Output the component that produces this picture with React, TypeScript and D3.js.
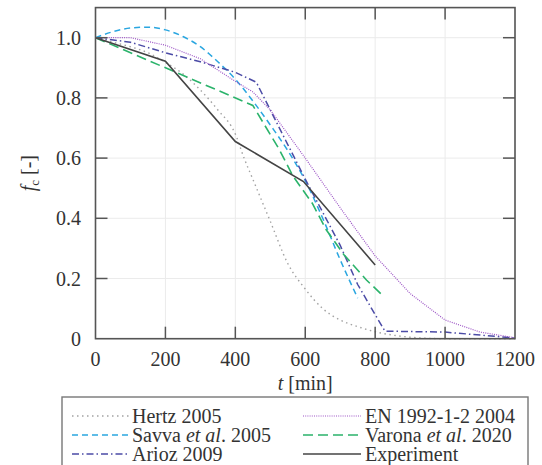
import React from "react";
import * as d3 from "d3";

const xTicks = [0, 200, 400, 600, 800, 1000, 1200];
const yTicks = [0, 0.2, 0.4, 0.6, 0.8, 1.0];
const yTickLabels = ["0", "0.2", "0.4", "0.6", "0.8", "1.0"];

const hertzT = [0, 50, 100, 150, 200, 250, 300, 350, 400, 425, 450, 500, 550, 600, 650, 700, 750, 800, 850, 900, 1000, 1200];
const hertzF = [1.0, 0.985, 0.97, 0.95, 0.918, 0.88, 0.826, 0.76, 0.68, 0.6, 0.53, 0.39, 0.25, 0.165, 0.1, 0.062, 0.04, 0.023, 0.012, 0.005, 0.0, 0.0];

const savvaT = [0, 50, 100, 150, 200, 250, 300, 350, 400, 450, 500, 550, 600, 650, 700, 750];
const savvaF = [1.0, 1.02, 1.032, 1.035, 1.026, 1.004, 0.97, 0.92, 0.862, 0.79, 0.71, 0.625, 0.525, 0.4, 0.262, 0.135];

const ariozT = [0, 100, 200, 300, 400, 460, 500, 550, 600, 650, 700, 750, 800, 828, 1000, 1200];
const ariozF = [1.0, 0.985, 0.95, 0.92, 0.885, 0.852, 0.76, 0.645, 0.53, 0.42, 0.31, 0.18, 0.08, 0.025, 0.022, 0.002];

const enT = [0, 100, 200, 300, 400, 450, 500, 600, 700, 800, 900, 1000, 1100, 1200];
const enF = [1.0, 1.0, 0.975, 0.93, 0.855, 0.82, 0.76, 0.6, 0.435, 0.275, 0.15, 0.062, 0.022, 0.003];

const varonaT = [0, 450, 525, 565, 620, 660, 710, 775, 825];
const varonaF = [1.0, 0.775, 0.63, 0.54, 0.45, 0.362, 0.28, 0.195, 0.14];

const expT = [0, 200, 400, 595, 800];
const expF = [1.0, 0.922, 0.655, 0.522, 0.245];

const W = 542;
const H = 465;
const L = 95.5, R = 515, T = 7.6, B = 338.7;

type S = { name: string; t: number[]; f: number[]; color: string; dash: string; width: number; smooth: boolean };

const series: S[] = [
  { name: "Hertz 2005", t: hertzT, f: hertzF, color: "#a3a3a3", dash: "1.5 3.5", width: 1.4, smooth: true },
  { name: "Savva", t: savvaT, f: savvaF, color: "#2aa6e0", dash: "6 4", width: 1.5, smooth: true },
  { name: "Arioz 2009", t: ariozT, f: ariozF, color: "#4b4ba6", dash: "7 3 1.5 3", width: 1.5, smooth: false },
  { name: "EN 1992-1-2 2004", t: enT, f: enF, color: "#9d55c6", dash: "1 1.2", width: 1.2, smooth: false },
  { name: "Varona", t: varonaT, f: varonaF, color: "#2bb36b", dash: "10 5", width: 1.6, smooth: false },
  { name: "Experiment", t: expT, f: expF, color: "#444444", dash: "", width: 1.6, smooth: false },
];

export default function App() {
  const x = d3.scaleLinear().domain([0, 1200]).range([L, R]);
  const y = d3.scaleLinear().domain([0, 1.1]).range([B, T]);
  const mk = (s: S) => {
    const g = d3
      .line<number>()
      .x((_, i) => x(s.t[i]))
      .y((_, i) => y(s.f[i]))
      .curve(s.smooth ? d3.curveMonotoneX : d3.curveLinear);
    return g(s.f) || "";
  };
  const tickLen = 12;
  const axisColor = "#555";

  const legendRows = [
    { col: 0, row: 0, s: series[0], label: <>Hertz 2005</> },
    { col: 0, row: 1, s: series[1], label: <>Savva <tspan fontStyle="italic">et al</tspan>. 2005</> },
    { col: 0, row: 2, s: series[2], label: <>Arioz 2009</> },
    { col: 1, row: 0, s: series[3], label: <>EN 1992-1-2 2004</> },
    { col: 1, row: 1, s: series[4], label: <>Varona <tspan fontStyle="italic">et al</tspan>. 2020</> },
    { col: 1, row: 2, s: series[5], label: <>Experiment</> },
  ];
  const colX = [[72, 130, 132], [303, 361, 365]];
  const rowBase = [423, 442, 461];

  return (
    <svg width={W} height={H} className="chart" style={{ position: "absolute", left: 0, top: 0, background: "#fff" }}>
      <style>{`.chart text, .chart tspan { font-family: "Liberation Serif" !important; }`}</style>
      <rect x={0} y={0} width={W} height={H} fill="#fff" />
      {xTicks.map((t) => (
        <line key={"gx" + t} x1={x(t)} x2={x(t)} y1={T} y2={B} stroke="#ebebeb" strokeWidth={1} />
      ))}
      {yTicks.map((v) => (
        <line key={"gy" + v} x1={L} x2={R} y1={y(v)} y2={y(v)} stroke="#ebebeb" strokeWidth={1} />
      ))}
      <g fill="none">
        {series.map((s) => (
          <path key={s.name} d={mk(s)} stroke={s.color} strokeWidth={s.width} strokeDasharray={s.dash || undefined} />
        ))}
      </g>
      {xTicks.slice(1, -1).map((t) => (
        <g key={"tx" + t}>
          <line x1={x(t)} x2={x(t)} y1={B} y2={B - tickLen} stroke={axisColor} strokeWidth={1.5} />
          <line x1={x(t)} x2={x(t)} y1={T} y2={T + tickLen} stroke={axisColor} strokeWidth={1.5} />
        </g>
      ))}
      {yTicks.slice(1).map((v) => (
        <g key={"ty" + v}>
          <line x1={L} x2={L + tickLen} y1={y(v)} y2={y(v)} stroke={axisColor} strokeWidth={1.5} />
          <line x1={R} x2={R - tickLen} y1={y(v)} y2={y(v)} stroke={axisColor} strokeWidth={1.5} />
        </g>
      ))}
      <rect x={L} y={T} width={R - L} height={B - T} fill="none" stroke={axisColor} strokeWidth={1.6} />
      {xTicks.map((t) => (
        <text key={"lx" + t} x={x(t)} y={366} textAnchor="middle" fontSize={20} fill="#333" fontFamily="Liberation Serif">
          {t}
        </text>
      ))}
      {yTicks.map((v, i) => (
        <text key={"ly" + v} x={81} y={y(v) + 7} textAnchor="end" fontSize={20} fill="#333" fontFamily="Liberation Serif">
          {yTickLabels[i]}
        </text>
      ))}
      <text x={(L + R) / 2} y={390} textAnchor="middle" fontSize={20} fill="#333" fontFamily="Liberation Serif">
        <tspan fontStyle="italic">t</tspan> [min]
      </text>
      <text transform={`translate(35,${(T + B) / 2}) rotate(-90)`} textAnchor="middle" fontSize={20} fill="#333" fontFamily="Liberation Serif">
        <tspan fontStyle="italic">f</tspan>
        <tspan fontSize={13} dy={4}>c</tspan>
        <tspan dy={-4}> [-]</tspan>
      </text>
      <rect x={62} y={397} width={466} height={90} fill="#fff" stroke="#777" strokeWidth={1.4} />
      {legendRows.map((r, i) => {
        const cx = colX[r.col];
        const by = rowBase[r.row];
        return (
          <g key={"lg" + i}>
            <line x1={cx[0]} x2={cx[1]} y1={by - 7} y2={by - 7} stroke={r.s.color} strokeWidth={r.s.width} strokeDasharray={r.s.dash || undefined} />
            <text x={cx[2]} y={by} fontSize={20} fill="#333" fontFamily="Liberation Serif">
              {r.label}
            </text>
          </g>
        );
      })}
    </svg>
  );
}
